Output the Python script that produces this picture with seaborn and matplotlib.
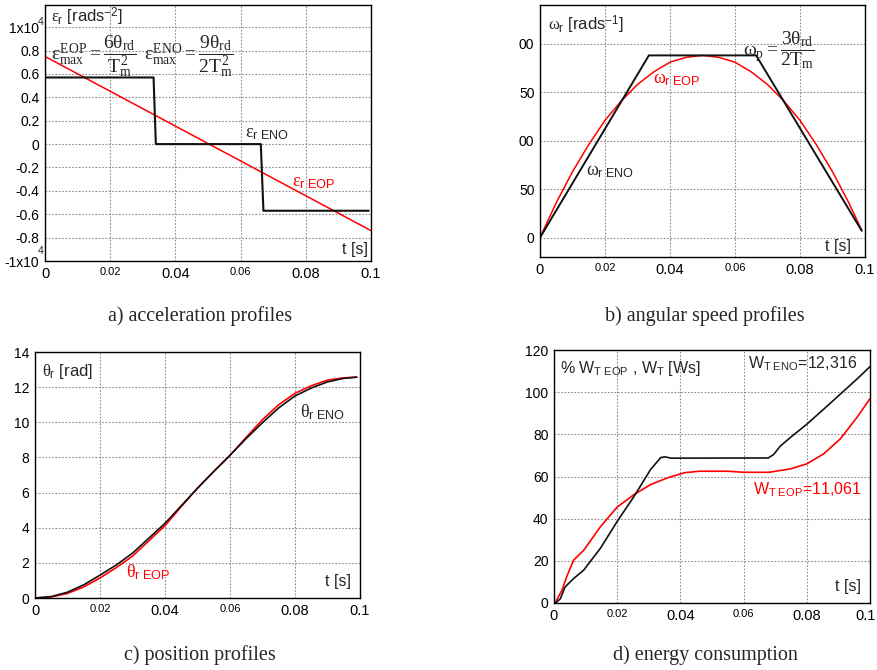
import numpy as np
import pandas as pd
import matplotlib
matplotlib.use("Agg")
import matplotlib.pyplot as plt
import matplotlib.transforms as mtransforms
import seaborn as sns

# values
# a) acceleration, x10^4 rad/s^2
t_acc_eno = [0, 0.0333, 0.0340, 0.0662, 0.0670, 0.0993]
acc_eno = [0.57, 0.57, 0.0, 0.0, -0.57, -0.57]
t_acc_eop = [0, 0.1]
acc_eop = [0.75, -0.74]

# b) angular speed, rad/s
t_spd_eno = [0, 0.0335, 0.0665, 0.099]
spd_eno = [0, 188, 188, 7]
t_grid = [0, 0.005, 0.01, 0.015, 0.02, 0.025, 0.03, 0.035, 0.04, 0.045, 0.05,
          0.055, 0.06, 0.065, 0.07, 0.075, 0.08, 0.085, 0.09, 0.095, 0.099]
spd_eop = [0, 36, 68, 96, 121, 141, 158, 171, 181, 186, 188,
           186, 181, 171, 158, 141, 121, 96, 68, 36, 7.5]

# c) position, rad
pos_eno = [0, 0.08, 0.33, 0.75, 1.30, 1.88, 2.55, 3.40, 4.25, 5.25, 6.25,
           7.20, 8.12, 9.08, 9.98, 10.82, 11.50, 11.95, 12.30, 12.50, 12.57]
pos_eop = [0, 0.06, 0.26, 0.63, 1.14, 1.73, 2.38, 3.25, 4.12, 5.20, 6.25,
           7.20, 8.12, 9.15, 10.15, 11.00, 11.65, 12.08, 12.40, 12.53, 12.57]

# d) energy, % of W_T EOP
t_en_eno = [0.0005, 0.002, 0.0035, 0.0062, 0.0094, 0.0147, 0.02, 0.0253, 0.0306,
            0.0338, 0.0352, 0.037, 0.0678, 0.0695, 0.0716, 0.0748, 0.08, 0.0854,
            0.0907, 0.096, 0.0999]
en_eno = [0, 2, 7.6, 11.6, 15.6, 26, 38.7, 50.5, 63.4, 69, 69.3, 68.7, 68.8, 70.4,
          74.4, 78.5, 84.8, 92, 99.2, 106.4, 112]
t_en_eop = [0.0005, 0.0025, 0.004, 0.0062, 0.0094, 0.0147, 0.02, 0.0253, 0.0306,
            0.036, 0.0413, 0.046, 0.055, 0.06, 0.068, 0.0748, 0.08, 0.0854, 0.0907,
            0.096, 0.0999]
en_eop = [0.5, 6, 12.4, 20.3, 25, 36.2, 45.5, 51.4, 56.2, 59.4, 61.8, 62.5, 62.5,
          62, 62, 63.6, 66, 70.8, 78, 88.3, 96.7]

x_ticks = [0, 0.02, 0.04, 0.06, 0.08, 0.1]
x_labels = ["0", "0.02", "0.04", "0.06", "0.08", "0.1"]

sns.set_theme(style="white")
plt.rcParams['font.family'] = ['Liberation Sans', 'DejaVu Sans']
plt.rcParams['mathtext.fontset'] = 'custom'
plt.rcParams['mathtext.rm'] = 'Liberation Serif'
plt.rcParams['mathtext.it'] = 'Liberation Serif'
plt.rcParams['mathtext.sf'] = 'Liberation Sans'

W, H = 877, 670
fig = plt.figure(figsize=(W / 100, H / 100), dpi=100)


def box(l, t, r, b):
    return fig.add_axes([l / W, 1 - b / H, (r - l) / W, (b - t) / H])


def style(ax, ylim, yticks, ylabels=None):
    ax.set_xlim(0, 0.1)
    ax.set_ylim(*ylim)
    ax.set_xticks(x_ticks)
    ax.set_xticklabels(x_labels)
    ax.set_yticks(yticks)
    if ylabels is not None:
        ax.set_yticklabels(ylabels)
    for i, lab in enumerate(ax.get_xticklabels()):
        lab.set_fontsize(8 if i in (1, 3) else 10.5)
        lab.set_color("black")
    for lab in ax.get_yticklabels():
        lab.set_fontsize(10)
        lab.set_color("black")
    ax.tick_params(length=0, pad=4)
    ax.grid(True, linestyle=(0, (1.5, 1.5)), color="#8c8c8c", linewidth=0.8)
    for s in ax.spines.values():
        s.set_color("black")
        s.set_linewidth(1.0)
    ax.set_xlabel("")
    ax.set_ylabel("")


def line(ax, x, y, color, lw):
    sns.lineplot(x=x, y=y, ax=ax, color=color, linewidth=lw, sort=False,
                 estimator=None)


red = "#ff0000"
blk = "#111111"

# a) acceleration
ax = box(45, 5, 371, 261)
line(ax, t_acc_eop, acc_eop, red, 1.1)
line(ax, t_acc_eno, acc_eno, blk, 1.5)
style(ax, (-1.0, 1.19), [-1, -0.8, -0.6, -0.4, -0.2, 0, 0.2, 0.4, 0.6, 0.8, 1.0],
      ["-1x10", "-0.8", "-0.6", "-0.4", "-0.2", "0", "0.2", "0.4", "0.6", "0.8", "1x10"])
ax.text(-0.012, 1.045, "4", transform=ax.get_yaxis_transform(), fontsize=7.5,
        ha="center", va="center")
ax.text(-0.012, -0.915, "4", transform=ax.get_yaxis_transform(), fontsize=7.5,
        ha="center", va="center")
ax.text(0.017, 0.955, r'$\varepsilon_{\mathsf{r}}$ [rads$^{\mathsf{-2}}$]',
        transform=ax.transAxes, fontsize=12, va="center")
ax.text(0.017, 0.80, r'$\varepsilon_{max}^{EOP}=\dfrac{6\theta_{rd}}{T_m^2}$',
        transform=ax.transAxes, fontsize=14, va="center")
ax.text(0.305, 0.80, r'$\varepsilon_{max}^{ENO}=\dfrac{9\theta_{rd}}{2T_m^2}$',
        transform=ax.transAxes, fontsize=14, va="center")
ax.text(0.0613, 0.09, r'$\varepsilon_{\mathsf{r\ ENO}}$', fontsize=13, va="center")
ax.text(0.0757, -0.33, r'$\varepsilon_{\mathsf{r\ EOP}}$', fontsize=13, va="center",
        color=red)
ax.text(0.091, -0.9, "t [s]", fontsize=11.5, va="center")

# b) angular speed
ax = box(540, 5, 865, 257)
line(ax, t_grid, spd_eop, red, 1.1)
line(ax, t_spd_eno, spd_eno, blk, 1.4)
style(ax, (-20, 240), [0, 50, 100, 150, 200], ["0", "50", "00", "50", "00"])
ax.text(0.026, 0.92, r'$\omega_{\mathsf{r}}$ [rads$^{\mathsf{-1}}$]',
        transform=ax.transAxes, fontsize=12, va="center")
ax.text(0.625, 0.82, r'$\omega_p=\dfrac{3\theta_{rd}}{2T_m}$',
        transform=ax.transAxes, fontsize=14, va="center")
ax.text(0.0348, 163, r'$\omega_{\mathsf{r\ EOP}}$', fontsize=13, va="center",
        color=red)
ax.text(0.0142, 68, r'$\omega_{\mathsf{r\ ENO}}$', fontsize=13, va="center")
ax.text(0.0877, -9, "t [s]", fontsize=11.5, va="center")

# c) position
ax = box(35, 352, 360, 598)
line(ax, t_grid, pos_eop, red, 1.2)
line(ax, t_grid, pos_eno, blk, 1.2)
style(ax, (0, 14), [0, 2, 4, 6, 8, 10, 12, 14])
ax.text(0.02, 0.92, r'$\theta_{\mathsf{r}}$ [rad]', transform=ax.transAxes,
        fontsize=12, va="center")
ax.text(0.0815, 10.6, r'$\theta_{\mathsf{r\ ENO}}$', fontsize=13, va="center")
ax.text(0.0279, 1.45, r'$\theta_{\mathsf{r\ EOP}}$', fontsize=13, va="center",
        color=red)
ax.text(0.0892, 0.95, "t [s]", fontsize=11.5, va="center")

# d) energy consumption
ax = box(554, 350, 870, 603)
line(ax, t_en_eop, en_eop, red, 1.2)
line(ax, t_en_eno, en_eno, blk, 1.2)
style(ax, (0, 120), [0, 20, 40, 60, 80, 100, 120])
# last tick label sits at the right edge of the picture, pull it inside
last = ax.get_xticklabels()[-1]
last.set_horizontalalignment("right")
last.set_transform(last.get_transform() +
                   mtransforms.ScaledTranslation(6 / 100, 0, fig.dpi_scale_trans))
ax.text(0.019, 0.928, r'% W$_{\mathsf{T\ EOP}}$ , W$_{\mathsf{T}}$ [Ws]',
        transform=ax.transAxes, fontsize=11.5, va="center")
ax.text(0.615, 0.947, r'W$_{\mathsf{T\ ENO}}$=12,316', transform=ax.transAxes,
        fontsize=11.5, va="center")
ax.text(0.0629, 53.8, r'W$_{\mathsf{T\ EOP}}$=11,061', fontsize=11.5, va="center",
        color=red)
ax.text(0.089, 7.6, "t [s]", fontsize=11.5, va="center")

# captions
for x, y, s in [(200, 316, "a) acceleration profiles"),
                (705, 316, "b) angular speed profiles"),
                (200, 655, "c) position profiles"),
                (705, 655, "d) energy consumption")]:
    fig.text(x / W, 1 - y / H, s, ha="center", va="center", fontsize=14.5,
             family="Liberation Serif")

fig.savefig("out.png", dpi=100)
